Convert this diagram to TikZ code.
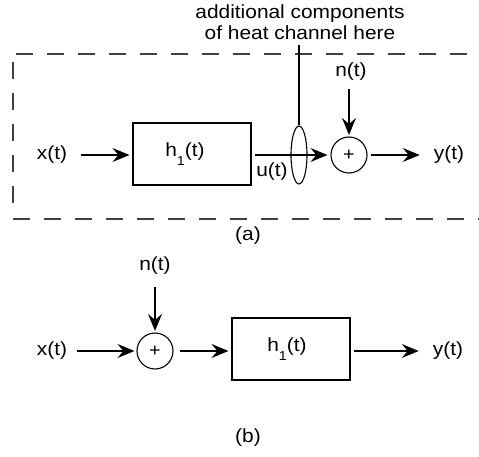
\documentclass[tikz,border=0pt]{standalone}
\usepackage{fontspec}
\setmainfont{Liberation Sans}[FakeStretch=1.1]
\usetikzlibrary{arrows.meta,shapes.geometric}
\newcommand{\hsub}{h\raisebox{-9pt}{\fontsize{13}{13}\selectfont 1}(t)}
\begin{document}
\begin{tikzpicture}[x=1pt,y=-1pt,
  every node/.style={font=\fontsize{19}{21}\selectfont},
  lbl/.style={inner sep=0pt},
  blk/.style={draw,line width=1.1pt,minimum width=118pt,minimum height=62pt,inner sep=0pt},
  sumnode/.style={draw,circle,line width=1.1pt,minimum size=36pt,inner sep=0pt,font=\fontsize{18}{18}\selectfont},
  wire/.style={line width=1.1pt},
  sig/.style={wire,-{Stealth[length=17pt,width=14pt,inset=6pt]}},
  frame/.style={line width=1.3pt,draw=black!75,dash pattern=on 17pt off 14pt}]
\useasboundingbox (0,0) rectangle (479,457);
% frame (a)
\draw[frame] (16,54) -- (479,54);
\draw[frame] (13,62) -- (13,212);
\draw[frame] (13,219) -- (479,219);
% caption text
\node[lbl,align=center] (note) at (300,22) {additional components\\of heat channel here};
% part (a)
\node[lbl] (xa) at (52,155) {x(t)};
\node[blk] (ha) at (192,154) {\hsub\hspace*{14pt}};
\node[draw,ellipse,line width=1.1pt,minimum width=16pt,minimum height=58pt,inner sep=0pt] (el) at (299,155) {};
\coordinate (elTop) at (299,45);
\node[sumnode] (sa) at (349,155) {+};
\node[lbl] (na) at (351,72) {n(t)};
\node[lbl] (ya) at (449,155) {y(t)};
\node[lbl] (ua) at (272,172) {u(t)};
\node[lbl] (capa) at (248,236) {(a)};
\draw[sig,shorten <=14pt,shorten >=3pt] (xa.east) -- (ha.west |- xa.east);
\draw[sig,shorten <=3pt,shorten >=3pt] (ha.east |- sa.west) -- (sa.west);
\draw[wire] (el.north) -- (elTop);
\draw[sig,shorten <=8pt,shorten >=1.5pt] (na.south -| sa.north) -- (sa.north);
\draw[sig,shorten <=3pt,shorten >=14pt] (sa.east) -- (ya.west);
% part (b)
\node[lbl] (nb) at (155,266) {n(t)};
\node[lbl] (xb) at (52,351) {x(t)};
\node[sumnode] (sb) at (155,351) {+};
\node[blk] (hb) at (291,349) {\hsub\hspace*{8pt}};
\node[lbl] (yb) at (448,351) {y(t)};
\node[lbl] (capb) at (248,438) {(b)};
\draw[sig,shorten <=12pt,shorten >=1.5pt] (nb.south) -- (sb.north);
\draw[sig,shorten <=10pt,shorten >=2pt] (xb.east) -- (sb.west);
\draw[sig,shorten <=6pt,shorten >=3pt] (sb.east) -- (hb.west |- sb.east);
\draw[sig,shorten <=3pt,shorten >=14pt] (hb.east |- yb.west) -- (yb.west);
\end{tikzpicture}
\end{document}
